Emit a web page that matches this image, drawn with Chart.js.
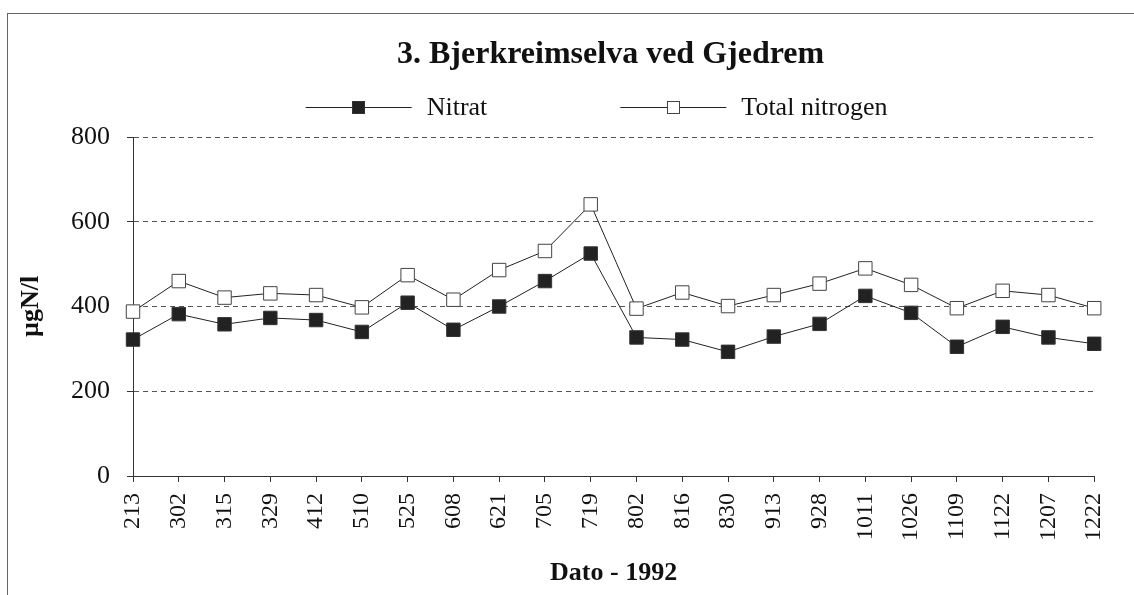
<!doctype html>
<html>
<head>
<title>Bjerkreimselva ved Gjedrem</title>
<script src="https://cdn.jsdelivr.net/npm/chart.js@4/dist/chart.umd.min.js"></script>
<style>
  body { margin: 0; background: #fff; overflow: hidden; }
  #frame {
    position: absolute; left: 7px; top: 13px;
    width: 1200px; height: 700px;
    border: 1px solid #666;
  }
  #canvas { position: absolute; left: 0; top: 0; }
</style>
</head>
<body>
<div id="frame"></div>
<canvas id="canvas" width="1134" height="595"></canvas>
<script>
// sampling dates (mmdd), 1992
var dates = ['213', '302', '315', '329', '412', '510', '525', '608', '621', '705', '719',
             '802', '816', '830', '913', '928', '1011', '1026', '1109', '1122', '1207', '1222'];
// µgN/l
var nitrat = [322, 382, 358, 373, 368, 340, 409, 345, 400, 460, 525,
              327, 322, 293, 329, 359, 425, 385, 305, 352, 327, 312];
var totalN = [388, 460, 421, 431, 427, 398, 474, 416, 486, 531, 641,
              395, 433, 401, 427, 454, 490, 451, 396, 437, 427, 396];
var yTicks = [0, 200, 400, 600, 800];

var chartTitle = '3. Bjerkreimselva ved Gjedrem';
var serif = '"Liberation Serif", "Times New Roman", serif';

// title centred over the plot, legend drawn as line + marker like the original
var headerPlugin = {
  id: 'header',
  afterDraw: function(chart) {
    var ctx = chart.ctx;
    var a = chart.chartArea;
    var mid = (a.left + a.right) / 2;
    ctx.save();
    ctx.fillStyle = '#111';
    ctx.textBaseline = 'middle';
    ctx.textAlign = 'center';
    ctx.font = 'bold 32px ' + serif;
    ctx.fillText(chartTitle, mid - 3, a.top - 82);

    var sets = chart.data.datasets;
    var lineW = 106, gap = 15, spacing = 133;
    ctx.font = '26px ' + serif;
    ctx.textAlign = 'left';
    var widths = sets.map(function(d) { return lineW + gap + ctx.measureText(d.label).width; });
    var total = widths.reduce(function(s, w) { return s + w; }, 0) + spacing * (sets.length - 1);
    var x = mid - 17 - total / 2;
    var y = a.top - 30;
    sets.forEach(function(d, i) {
      ctx.strokeStyle = d.borderColor;
      ctx.lineWidth = 1;
      ctx.beginPath();
      ctx.moveTo(x, y + 0.5);
      ctx.lineTo(x + lineW, y + 0.5);
      ctx.stroke();
      var s = 13;
      var mx = Math.round(x + lineW / 2 - s / 2), my = Math.round(y - s / 2);
      ctx.fillStyle = d.pointBackgroundColor;
      ctx.fillRect(mx, my, s, s);
      ctx.strokeStyle = d.pointBorderColor;
      ctx.strokeRect(mx + 0.5, my + 0.5, s - 1, s - 1);
      ctx.fillStyle = '#111';
      ctx.fillText(d.label, x + lineW + gap, y + 1);
      x += widths[i] + spacing;
    });
    ctx.restore();
  }
};

var config = {
  type: 'line',
  data: {
    labels: dates,
    datasets: [{
      label: 'Nitrat',
      data: nitrat,
      borderColor: '#222',
      borderWidth: 1,
      pointStyle: 'rect',
      pointRadius: 9.5,
      pointBackgroundColor: '#222',
      pointBorderColor: '#333',
      pointBorderWidth: 1,
      tension: 0
    }, {
      label: 'Total nitrogen',
      data: totalN,
      borderColor: '#222',
      borderWidth: 1,
      pointStyle: 'rect',
      pointRadius: 9.5,
      pointBackgroundColor: '#fff',
      pointBorderColor: '#444',
      pointBorderWidth: 1,
      tension: 0
    }]
  },
  options: {
    responsive: false,
    animation: false,
    events: [],
    layout: { padding: { left: 10, right: 33, top: 137, bottom: 0 } },
    plugins: {
      legend: { display: false },
      tooltip: { enabled: false },
      title: { display: false }
    },
    scales: {
      x: {
        type: 'category',
        offset: false,
        afterFit: function(scale) { scale.height = 119; },
        grid: { drawOnChartArea: false, tickLength: 6, color: '#333' },
        border: { color: '#333', width: 1 },
        ticks: {
          autoSkip: false, minRotation: 90, maxRotation: 90,
          padding: 11, color: '#111',
          font: { family: serif, size: 24 }
        },
        title: {
          display: true, text: 'Dato - 1992', color: '#111',
          font: { family: serif, size: 26, weight: 'bold' },
          padding: { top: 4, bottom: 6 }
        }
      },
      y: {
        min: 0, max: 800,
        afterFit: function(scale) { scale.width = 123; },
        afterBuildTicks: function(scale) {
          scale.ticks = yTicks.map(function(v) { return { value: v }; });
        },
        grid: { color: '#555', tickLength: 6, tickColor: '#333', tickBorderDash: [] },
        border: { color: '#333', width: 1, dash: [5, 4] },
        ticks: {
          padding: 17, color: '#111',
          font: { family: serif, size: 26 }
        },
        title: {
          display: true, text: 'µgN/l', color: '#111',
          font: { family: serif, size: 26, weight: 'bold' },
          padding: { top: 6, bottom: 4 }
        }
      }
    }
  },
  plugins: [headerPlugin]
};

window.myLine = new Chart(document.getElementById('canvas'), config);
</script>
</body>
</html>
